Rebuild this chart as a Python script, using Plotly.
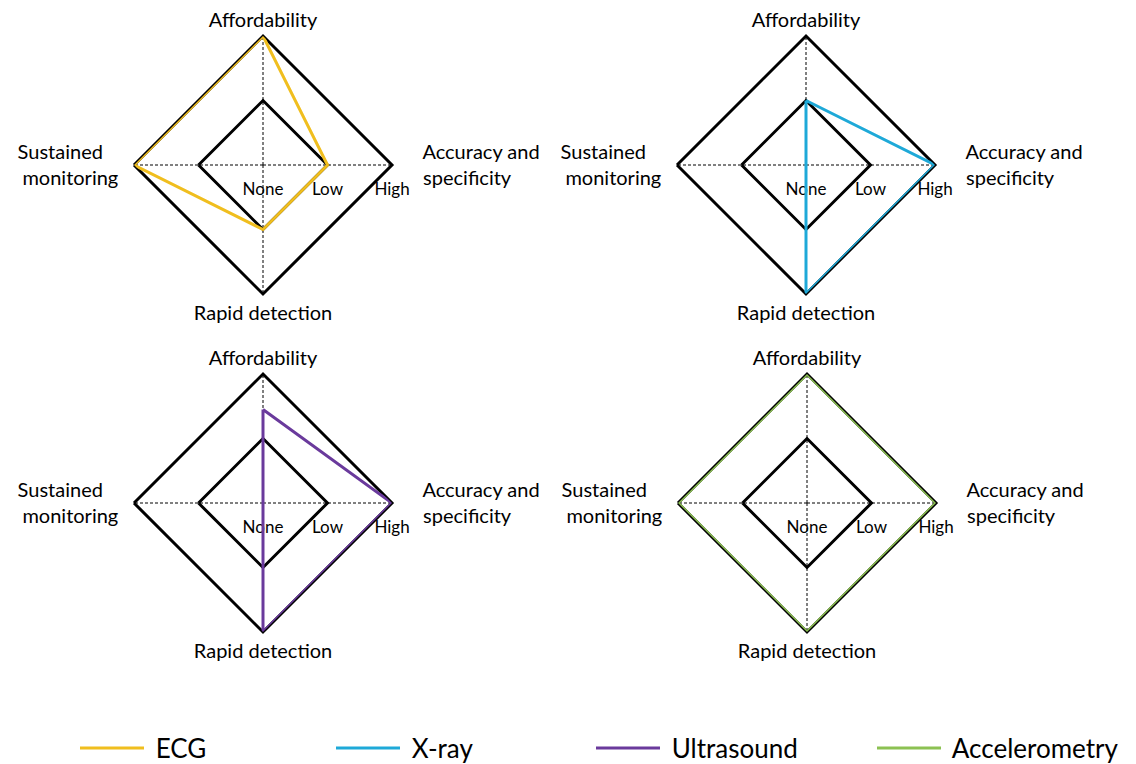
import plotly.graph_objects as go

# ---- data ----
axes_labels = ["Affordability", "Accuracy and<br>specificity", "Rapid detection", "Sustained<br>monitoring"]
level_names = ["None", "Low", "High"]
level_values = [0, 1, 2]
methods = ["ECG", "X-ray", "Ultrasound", "Accelerometry"]
ecg = [2, 1, 1, 2]
xray = [1, 2, 2, 0]
ultrasound = [1.45, 2, 2, 0]
accelerometry = [2, 2, 2, 2]
colors = ["#F0BE1E", "#1EA9D8", "#6A3A9C", "#8CC152"]

series = [ecg, xray, ultrasound, accelerometry]

W, H = 1136, 764
# centres (px) and radius for the four diamonds
centres = [(263, 165), (806, 165), (263, 503), (807, 503)]
R = 129

FONT = "Lato"
NB = "\u00a0"

# displayed category text (padding with non-breaking spaces for spacing only)
display_labels = [
    axes_labels[0],
    NB * 5 + "Accuracy and<br>" + NB * 5 + "specificity",
    axes_labels[2],
    "Sustained" + NB * 5 + "<br>monitoring" + NB * 2,
]

fig = go.Figure()

legend_names = ["legend", "legend2", "legend3", "legend4"]
for i, (name, vals, col) in enumerate(zip(methods, series, colors)):
    pid = "polar" if i == 0 else f"polar{i+1}"
    fig.add_trace(go.Scatterpolar(
        r=[level_values[0]], theta=[display_labels[0]], mode="markers",
        marker=dict(color="black", size=12), showlegend=False, subplot=pid,
        hoverinfo="skip"))
    fig.add_trace(go.Scatterpolar(
        r=vals + vals[:1], theta=display_labels + display_labels[:1], mode="lines",
        line=dict(color=col, width=3), name=NB + name, subplot=pid,
        legend=legend_names[i]))

layout = dict(
    width=W, height=H, margin=dict(l=0, r=0, t=0, b=0, autoexpand=False),
    paper_bgcolor="white", plot_bgcolor="white",
    font=dict(family=FONT, color="black"),
)

for i, (cx, cy) in enumerate(centres):
    pid = "polar" if i == 0 else f"polar{i+1}"
    layout[pid] = dict(
        domain=dict(x=[(cx - R) / W, (cx + R) / W], y=[1 - (cy + R) / H, 1 - (cy - R) / H]),
        bgcolor="white",
        gridshape="linear",
        angularaxis=dict(
            rotation=90, direction="clockwise", type="category",
            categoryorder="array", categoryarray=display_labels,
            showline=True, linecolor="black", linewidth=3,
            showgrid=True, gridcolor="black", gridwidth=1, griddash="3px,2px",
            ticks="", tickfont=dict(family=FONT, size=20, color="black"),
            layer="below traces"),
        radialaxis=dict(
            range=[0, 2], tickmode="array", tickvals=level_values, ticktext=level_names,
            angle=0, tickangle=0, side="clockwise",
            showline=False, showgrid=True, gridcolor="black", gridwidth=3,
            ticks="outside", ticklen=9, tickcolor="rgba(0,0,0,0)",
            tickfont=dict(family=FONT, size=17, color="black"),
            layer="below traces"),
    )

leg_x = [75, 331, 591, 872]
for i, ln in enumerate(legend_names):
    layout[ln] = dict(
        x=leg_x[i] / W, xanchor="left", y=1 - 748 / H, yanchor="middle",
        orientation="h", itemwidth=64, bgcolor="rgba(0,0,0,0)",
        font=dict(family=FONT, size=26, color="black"))

fig.update_layout(**layout)
fig.write_html("out.html", config={"displayModeBar": False},
               post_script="document.body.style.margin='0';document.body.style.overflow='hidden';")
